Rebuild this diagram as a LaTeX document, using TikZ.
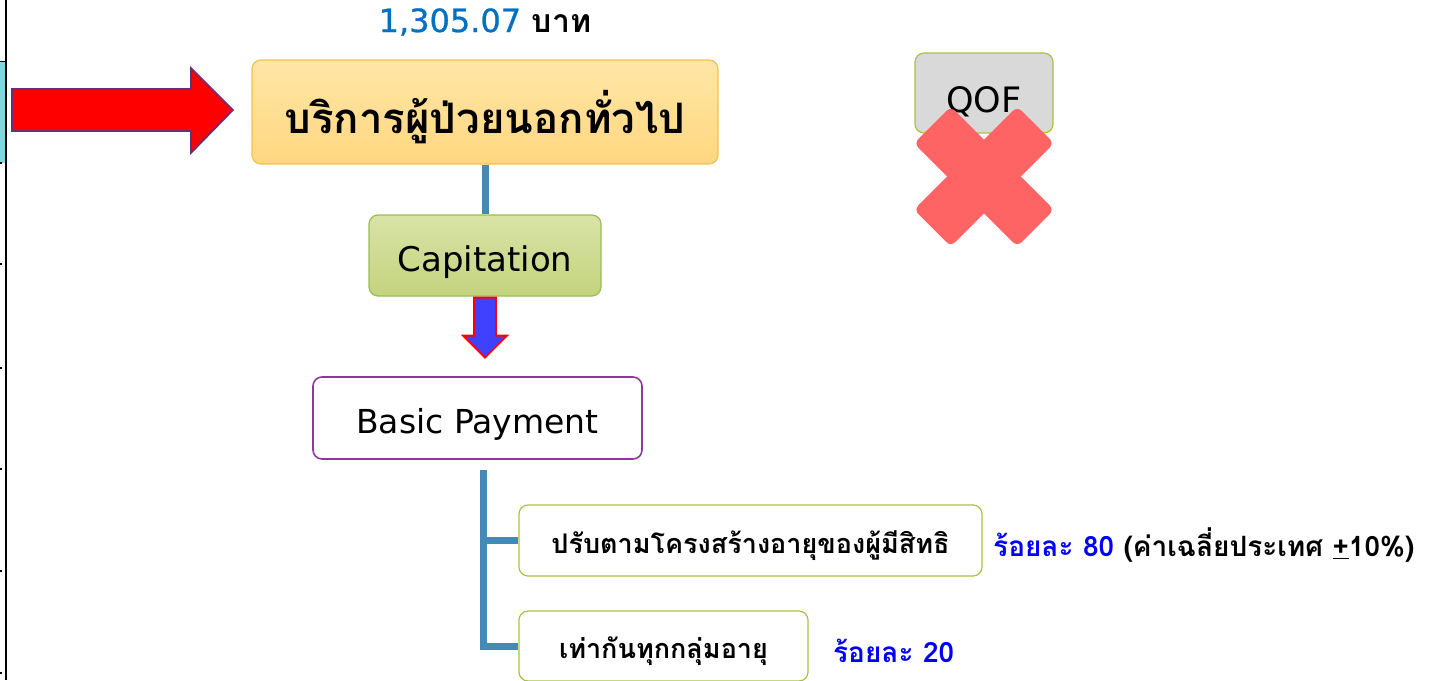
\documentclass[tikz,border=0pt]{standalone}
\usepackage{fontspec}
\setmainfont{Loma}[Script=Thai]
\newfontfamily\latin{DejaVu Sans}
\newfontfamily\latinsemi{DejaVu Sans}[FakeBold=0.8]
\usetikzlibrary{calc}
\definecolor{numblue}{HTML}{0070C0}
\definecolor{lblblue}{HTML}{0000FF}
\definecolor{connblue}{HTML}{448AB8}
\definecolor{goldline}{HTML}{F2C14E}
\definecolor{orangetop}{HTML}{FFE6A6}
\definecolor{orangebot}{HTML}{FFD780}
\definecolor{greentop}{HTML}{D8E3A6}
\definecolor{greenbot}{HTML}{C4D37F}
\definecolor{greenline}{HTML}{9BBB59}
\definecolor{limeline}{HTML}{A9C23F}
\definecolor{purpleline}{HTML}{8E3A9C}
\definecolor{arrowpurple}{HTML}{6B2D7A}
\definecolor{xred}{HTML}{FF6464}
\definecolor{qofgray}{HTML}{D9D9D9}
\definecolor{cyanblock}{HTML}{80D8DF}
\tikzset{
  box/.style={rounded corners=9pt, line width=1.2pt, align=center, inner sep=0pt, text depth=0pt},
  conn/.style={connblue, line width=7pt},
}
\begin{document}
\begin{tikzpicture}[x=1pt,y=-1pt]
\useasboundingbox (0,0) rectangle (1439,680);
% left edge decorations
\fill[cyanblock] (0,61) rectangle (5,163);
\draw[black, line width=1.4pt] (6,0) -- (6,680);
\draw[black, line width=0.6pt] (0,61) -- (6,61);
\foreach \yy in {163,264,368,469,571,673} \fill[black] (0,\yy-1) rectangle (1.6,\yy+1);

% title amount
\node[font=\fontsize{32}{38}\selectfont] (amount) at (485,22) {{\latinsemi\color{numblue}1,305.07} \textbf{บาท}};

% main box
\node[box, draw=goldline, top color=orangetop, bottom color=orangebot, minimum width=466pt, minimum height=104pt, font=\bfseries\fontsize{42}{50}\selectfont] (main) at (485,112) {บริการผู้ป่วยนอกทั่วไป};

% red arrow
\draw[arrowpurple, line width=1.6pt, fill=red, line join=miter] (12,89) -- (191,89) -- (191,68) -- (233,110) -- (191,153) -- (191,131) -- (12,131) -- cycle;

% capitation
\node[box, draw=greenline, top color=greentop, bottom color=greenbot, minimum width=232pt, minimum height=81pt, font=\latin\fontsize{34}{38}\selectfont] (cap) at (485,255.5) {\raisebox{-6pt}{Capitation}};
\draw[conn] (main.south) -- (cap.north);

% blue down arrow
\draw[red, line width=1.8pt, fill={rgb,255:red,64;green,64;blue,255}, line join=miter]
  ($(cap.south)+(-11,1)$) -- ($(cap.south)+(11,1)$) -- ($(cap.south)+(11,39)$) -- ($(cap.south)+(22,39)$)
  -- ($(cap.south)+(0,61)$) -- ($(cap.south)+(-22,39)$) -- ($(cap.south)+(-11,39)$) -- cycle;

% basic payment
\node[box, draw=purpleline, fill=white, line width=1.6pt, minimum width=329pt, minimum height=82pt, font=\latin\fontsize{33}{38}\selectfont] (basic) at (477.5,418) {\raisebox{-6pt}{Basic Payment}};

% sub boxes
\node[box, draw=limeline, fill=white, minimum width=463pt, minimum height=71pt, font=\bfseries\fontsize{27}{32}\selectfont] (b1) at (750.5,540.5) {\raisebox{-4pt}{ปรับตามโครงสร้างอายุของผู้มีสิทธิ}};
\node[box, draw=limeline, fill=white, minimum width=289pt, minimum height=70pt, font=\bfseries\fontsize{27}{32}\selectfont] (b2) at (663.5,646) {\raisebox{-4pt}{เท่ากันทุกกลุ่มอายุ}};

\coordinate (t0) at (483,470);
\draw[conn] (t0) |- (b2.west);
\draw[conn] (t0 |- b1.west) -- (b1.west);

% labels
\node[anchor=west, font=\bfseries\fontsize{28}{34}\selectfont, inner sep=0pt] (l1) at (993,545) {{\color{lblblue}ร้อยละ 80} (ค่าเฉลี่ยประเทศ \underline{+}10\%)};
\node[anchor=west, font=\bfseries\fontsize{28}{34}\selectfont, inner sep=0pt] (l2) at (833,651) {\color{lblblue}ร้อยละ 20};

% QOF box with cross
\node[box, draw=limeline, fill=qofgray, minimum width=138pt, minimum height=80pt, font=\latin\fontsize{35}{40}\selectfont] (qof) at (984,93) {\raisebox{-14pt}{QOF}};
\begin{scope}[shift={(984,176.5)}]
  \fill[xred, rounded corners=6pt, rotate=45] (-73,-26) rectangle (73,26);
  \fill[xred, rounded corners=6pt, rotate=-45] (-73,-26) rectangle (73,26);
\end{scope}
\end{tikzpicture}
\end{document}
